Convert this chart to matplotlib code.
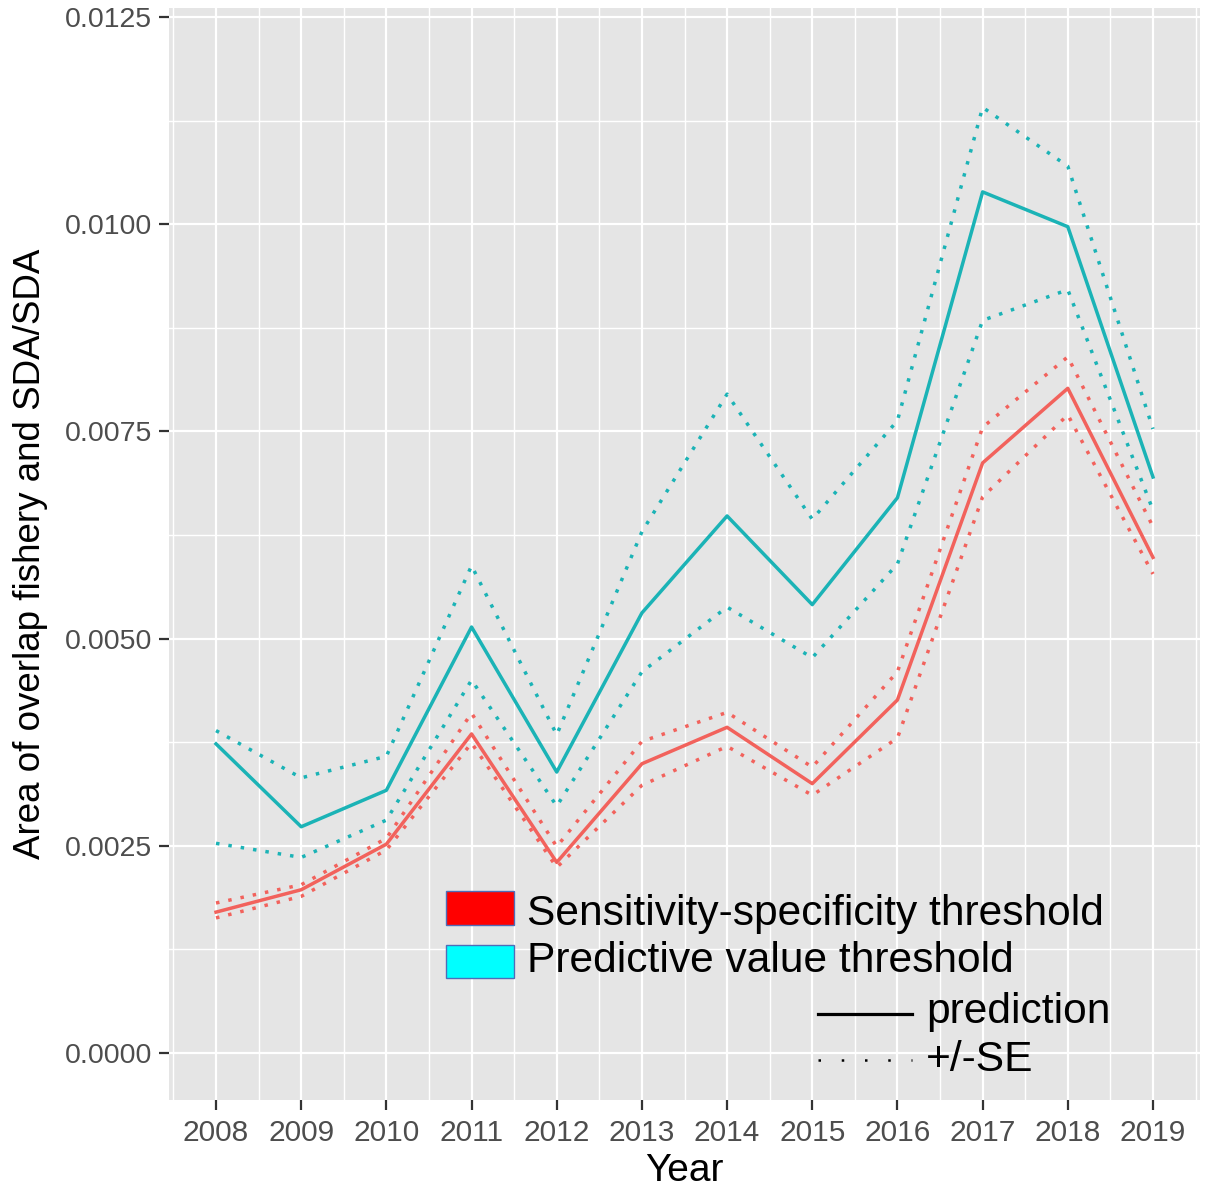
import numpy as np
import matplotlib
matplotlib.use("Agg")
import matplotlib.pyplot as plt
from matplotlib.patches import Rectangle
from matplotlib.ticker import MultipleLocator, FixedLocator

plt.rcParams['font.family'] = ['Liberation Sans', 'DejaVu Sans']

years = [2008, 2009, 2010, 2011, 2012, 2013, 2014, 2015, 2016, 2017, 2018, 2019]

# Sensitivity-specificity threshold
ss_pred = [0.00170, 0.00197, 0.00252, 0.00385, 0.00230, 0.00349, 0.00393, 0.00325, 0.00426, 0.00712, 0.00802, 0.00598]
ss_upper = [0.00181, 0.00203, 0.00259, 0.00410, 0.00249, 0.00376, 0.00411, 0.00345, 0.00460, 0.00755, 0.00840, 0.00635]
ss_lower = [0.00163, 0.00189, 0.00245, 0.00374, 0.00224, 0.00323, 0.00370, 0.00311, 0.00380, 0.00671, 0.00770, 0.00578]

# Predictive value threshold
pv_pred = [0.00373, 0.00273, 0.00317, 0.00514, 0.00339, 0.00531, 0.00648, 0.00541, 0.00670, 0.01039, 0.00997, 0.00695]
pv_upper = [0.00389, 0.00332, 0.00358, 0.00588, 0.00384, 0.00629, 0.00795, 0.00644, 0.00763, 0.01141, 0.01070, 0.00753]
pv_lower = [0.00253, 0.00236, 0.00281, 0.00450, 0.00298, 0.00460, 0.00538, 0.00477, 0.00590, 0.00884, 0.00921, 0.00655]

red = '#F2625C'
cyan = '#1BB3B6'

fig = plt.figure(figsize=(12.08, 11.91), dpi=100)
ax = fig.add_axes([169/1208, 1 - 1100/1191, 1031/1208, 1092/1191])
ax.set_facecolor('#E5E5E5')

ax.set_xlim(2007.448, 2019.552)
ax.set_ylim(-0.000567, 0.012609)

ax.xaxis.set_major_locator(FixedLocator(years))
ax.xaxis.set_minor_locator(FixedLocator([y + 0.5 for y in [2007] + years]))
ax.yaxis.set_major_locator(MultipleLocator(0.0025))
ax.yaxis.set_minor_locator(MultipleLocator(0.00125))
ax.grid(which='major', color='white', lw=1.6)
ax.grid(which='minor', color='white', lw=1.0)
ax.set_axisbelow(True)
for s in ax.spines.values():
    s.set_visible(False)

ax.set_xticklabels([str(y) for y in years])
ax.yaxis.set_major_formatter(matplotlib.ticker.FormatStrFormatter('%.4f'))
ax.tick_params(which='major', length=7, width=1.6, color='#333333',
               labelcolor='#4D4D4D')
ax.tick_params(axis='x', labelsize=21.5, pad=7)
ax.tick_params(axis='y', labelsize=20.5, pad=5)
ax.tick_params(which='minor', length=0)

dots = (0, (1, 2.6))
ax.plot(years, ss_pred, color=red, lw=2.5)
ax.plot(years, ss_upper, color=red, lw=2.5, linestyle=dots)
ax.plot(years, ss_lower, color=red, lw=2.5, linestyle=dots)
ax.plot(years, pv_pred, color=cyan, lw=2.5)
ax.plot(years, pv_upper, color=cyan, lw=2.5, linestyle=dots)
ax.plot(years, pv_lower, color=cyan, lw=2.5, linestyle=dots)

ax.set_xlabel('Year', fontsize=28, labelpad=4)
ax.set_ylabel('Area of overlap fishery and SDA/SDA', fontsize=26.5, labelpad=12)

# legend drawn inside the panel
tr = ax.transAxes
ax.add_patch(Rectangle((0.2687, 0.1603), 0.0659, 0.0311, transform=tr,
                       facecolor='#FF0000', edgecolor='#4F6DB8', lw=1))
ax.add_patch(Rectangle((0.2687, 0.1117), 0.0659, 0.0302, transform=tr,
                       facecolor='#00FFFF', edgecolor='#4F6DB8', lw=1))
ax.text(0.3472, 0.1603, 'Sensitivity-specificity threshold', transform=tr,
        fontsize=30.6, va='baseline', ha='left')
ax.text(0.3472, 0.1172, 'Predictive value threshold', transform=tr,
        fontsize=30.6, va='baseline', ha='left')
ax.plot([0.6295, 0.7207], [0.0788, 0.0788], transform=tr, color='black', lw=2.3)
ax.plot([0.6295, 0.7207], [0.0366, 0.0366], transform=tr, color='black', lw=1.8,
        linestyle=(0, (1, 8.3)))
ax.text(0.7343, 0.0705, 'prediction', transform=tr, fontsize=30.6, va='baseline', ha='left')
ax.text(0.7343, 0.0266, '+/-SE', transform=tr, fontsize=30.6, va='baseline', ha='left')

fig.savefig('out.png', dpi=100)
